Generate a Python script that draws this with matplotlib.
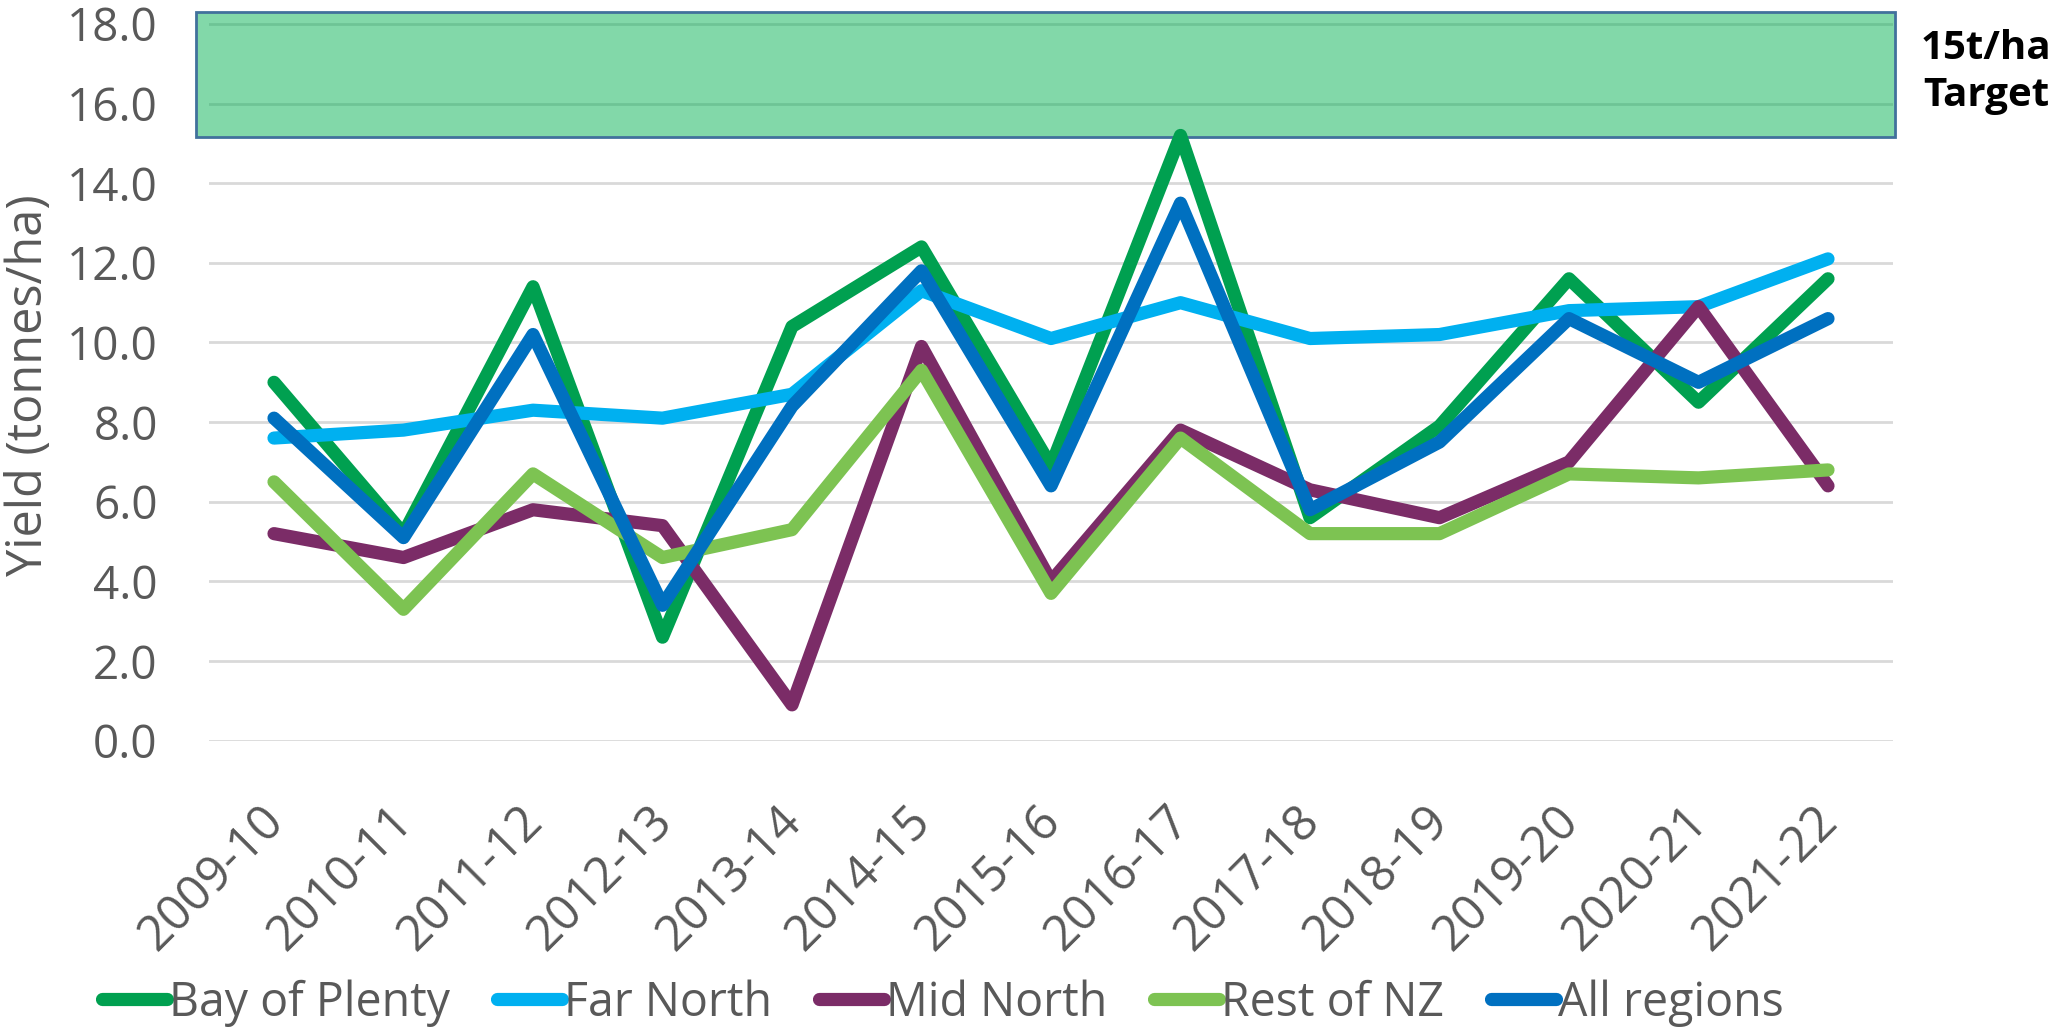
import numpy as np
import matplotlib
matplotlib.use('Agg')
import matplotlib.pyplot as plt
from matplotlib.patches import Rectangle
import matplotlib.transforms as mtransforms

plt.rcParams['font.family'] = ['Open Sans', 'DejaVu Sans']

seasons = ['2009-10', '2010-11', '2011-12', '2012-13', '2013-14', '2014-15', '2015-16',
           '2016-17', '2017-18', '2018-19', '2019-20', '2020-21', '2021-22']

bay_of_plenty = [9.0, 5.2, 11.4, 2.6, 10.4, 12.4, 6.9, 15.2, 5.6, 7.9, 11.6, 8.5, 11.6]
far_north = [7.6, 7.8, 8.3, 8.1, 8.7, 11.3, 10.1, 11.0, 10.1, 10.2, 10.8, 10.9, 12.1]
mid_north = [5.2, 4.6, 5.8, 5.4, 0.9, 9.9, 4.0, 7.8, 6.3, 5.6, 7.0, 10.9, 6.4]
rest_of_nz = [6.5, 3.3, 6.7, 4.6, 5.3, 9.3, 3.7, 7.6, 5.2, 5.2, 6.7, 6.6, 6.8]
all_regions = [8.1, 5.1, 10.2, 3.4, 8.4, 11.8, 6.4, 13.5, 5.8, 7.5, 10.6, 9.0, 10.6]

series = [
    ('Bay of Plenty', bay_of_plenty, '#00A050'),
    ('Far North', far_north, '#00B0F0'),
    ('Mid North', mid_north, '#7B2C67'),
    ('Rest of NZ', rest_of_nz, '#7DC352'),
    ('All regions', all_regions, '#0070C0'),
]

target_low, target_high = 15.15, 18.3

grey = '#595959'

fig = plt.figure(figsize=(20.62, 10.31), dpi=100)
ax = fig.add_axes([0.10148, 0.28158, 0.81644, 0.70678])

x = np.arange(len(seasons))
ax.set_xlim(-0.5, len(seasons) - 0.5)
ax.set_ylim(0, target_high)
yt = np.arange(0, 18.1, 2)
ax.set_yticks(yt)
ax.yaxis.grid(True, color='#D9D9D9', lw=2)
ax.set_axisbelow(True)
for s in ax.spines.values():
    s.set_visible(False)

# target band (semi transparent so the gridlines show through)
band_x0, band_x1 = -0.602, 12.517
ax.add_patch(Rectangle((band_x0, target_low), band_x1 - band_x0, target_high - target_low,
                       facecolor='#00B050', alpha=0.49, edgecolor='none', zorder=1.5,
                       clip_on=False))
ax.add_patch(Rectangle((band_x0, target_low), band_x1 - band_x0, target_high - target_low,
                       facecolor='none', edgecolor='#41719C', lw=2, zorder=1.6,
                       clip_on=False))

for name, vals, col in series:
    ax.plot(x, vals, color=col, lw=9.5, label=name, solid_capstyle='round',
            solid_joinstyle='round', zorder=3)

ax.set_yticklabels(['%.1f' % v for v in yt])
ax.tick_params(axis='y', length=0, pad=37, labelsize=33, labelcolor=grey)
ax.set_xticks(x)
ax.set_xticklabels(seasons, rotation=45, ha='right', va='top', rotation_mode='anchor')
ax.tick_params(axis='x', length=0, pad=40, labelsize=35, labelcolor=grey)
offset = mtransforms.ScaledTranslation(-15 / 100, 0, fig.dpi_scale_trans)
for lab in ax.get_xticklabels():
    lab.set_transform(lab.get_transform() + offset)

ax.set_ylabel('Yield (tonnes/ha)', fontsize=35, color=grey)
ax.yaxis.label.set_va('center')
ax.yaxis.set_label_coords(-0.107, 0.488)

fig.text(0.9632, 0.9534, '15t/ha', fontsize=29, fontweight='bold', ha='center', va='center')
fig.text(0.9632, 0.9075, 'Target', fontsize=29, fontweight='bold', ha='center', va='center')

leg = fig.legend(loc='center', bbox_to_anchor=(0.4573, 0.0272), ncol=5, frameon=False,
                 fontsize=33.5, handlelength=1.4, handletextpad=0.05, columnspacing=1.0)
for t in leg.get_texts():
    t.set_color(grey)

fig.savefig('out.png', dpi=100)
